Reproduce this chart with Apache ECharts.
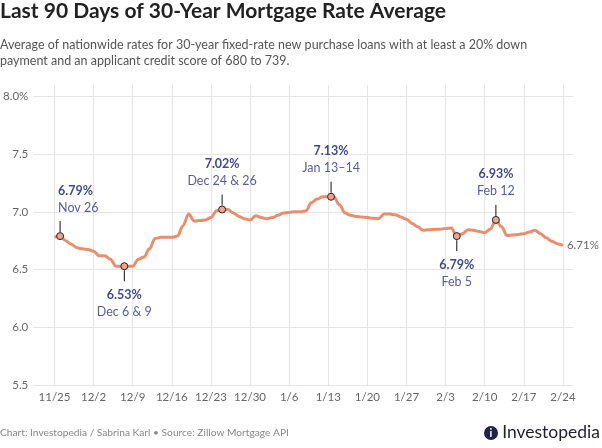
<!DOCTYPE html>
<html>
<head>
<meta charset="utf-8">
<script src="https://cdn.jsdelivr.net/npm/echarts@6/dist/echarts.min.js"></script>
<style>
  html, body { margin: 0; padding: 0; background: #fff; }
  #chart { width: 602px; height: 448px; }
</style>
</head>
<body>
<div id="chart"></div>
<script>
// day 0 = Nov 25, last day (91) = Feb 24
var rates = [
	6.78, 6.79, 6.75, 6.72, 6.69, 6.68, 6.675, 6.66, 6.62, 6.62,
	6.59, 6.53, 6.53, 6.53, 6.53, 6.59, 6.61, 6.68, 6.77, 6.78,
	6.78, 6.78, 6.79, 6.88, 6.98, 6.92, 6.925, 6.93, 6.95, 7.01,
	7.02, 7.02, 6.99, 6.96, 6.94, 6.93, 6.965, 6.95, 6.94, 6.95,
	6.97, 6.99, 6.995, 7.0, 7.0, 7.01, 7.08, 7.11, 7.13, 7.13,
	7.13, 7.06, 6.99, 6.97, 6.96, 6.955, 6.95, 6.945, 6.94, 6.98,
	6.98, 6.975, 6.955, 6.935, 6.9, 6.87, 6.84, 6.845, 6.85, 6.85,
	6.855, 6.86, 6.79, 6.81, 6.845, 6.84, 6.83, 6.82, 6.85, 6.93,
	6.87, 6.795, 6.8, 6.805, 6.81, 6.825, 6.84, 6.81, 6.775, 6.745,
	6.725, 6.71
];
var tickDays = [0, 7, 14, 21, 28, 35, 42, 49, 56, 63, 70, 77, 84, 91];
var tickLabels = ['11/25', '12/2', '12/9', '12/16', '12/23', '12/30', '1/6', '1/13', '1/20', '1/27', '2/3', '2/10', '2/17', '2/24'];
var yTicks = [5.5, 6.0, 6.5, 7.0, 7.5, 8.0];

var noteDays = [1, 12.5, 30, 49.5, 72, 79];
var noteRates = [6.79, 6.53, 7.02, 7.13, 6.79, 6.93];
var noteDates = ['Nov 26', 'Dec 6 & 9', 'Dec 24 & 26', 'Jan 13–14', 'Feb 5', 'Feb 12'];
var noteBelow = [false, true, false, false, true, false];

var lineData = rates.map(function (r, i) { return [i, r]; });
var noteData = noteDays.map(function (d, i) { return [d, noteRates[i]]; });

var FONT = 'Lato';
var chartDom = document.getElementById('chart');
var myChart = echarts.init(chartDom, null, { renderer: 'canvas' });
var option;

option = {
	animation: false,
	textStyle: { fontFamily: FONT },
	title: [
		{
			text: 'Last 90 Days of 30-Year Mortgage Rate Average',
			left: 0,
			top: 1,
			padding: 0,
			textStyle: { fontFamily: FONT, fontSize: 21, fontWeight: 'bold', color: '#222' }
		},
		{
			text: 'Average of nationwide rates for 30-year fixed-rate new purchase loans with at least a 20% down\npayment and an applicant credit score of 680 to 739.',
			left: 0,
			top: 37,
			padding: 0,
			textStyle: { fontFamily: FONT, fontSize: 12.5, fontWeight: 'normal', color: '#555', lineHeight: 16 }
		},
		{
			text: 'Chart: Investopedia / Sabrina Karl • Source: Zillow Mortgage API',
			left: 0,
			top: 428,
			padding: 0,
			textStyle: { fontFamily: FONT, fontSize: 10.2, fontWeight: 'normal', color: '#888' }
		},
		{
			text: 'Investopedia',
			right: 2,
			top: 423,
			padding: 0,
			textStyle: { fontFamily: FONT, fontSize: 17.5, fontWeight: 'normal', color: '#1f1f2e' }
		}
	],
	graphic: [
		{
			type: 'circle',
			shape: { cx: 491, cy: 433, r: 7 },
			style: { fill: '#23234a' }
		},
		{
			type: 'text',
			style: { text: 'i', x: 491, y: 433, align: 'center', verticalAlign: 'middle', fill: '#fff', font: 'bold 11px ' + FONT }
		}
	],
	grid: {
		left: 31,
		right: 29,
		top: 85,
		bottom: 62.5
	},
	xAxis: {
		type: 'value',
		min: -3.8,
		max: 92.8,
		axisLine: { show: false },
		axisTick: { show: false, customValues: tickDays },
		axisLabel: {
			customValues: tickDays,
			color: '#666',
			fontSize: 11.5,
			margin: 6,
			formatter: function (v) { return tickLabels[tickDays.indexOf(v)]; }
		},
		splitLine: { show: true, lineStyle: { color: '#e5e5e5', width: 1 } }
	},
	yAxis: {
		type: 'value',
		min: 5.5,
		max: 8.095,
		axisLine: { show: false },
		axisTick: { show: false, customValues: yTicks },
		axisLabel: {
			customValues: yTicks,
			color: '#666',
			fontSize: 11.5,
			margin: 5,
			formatter: function (v) { return v === 8 ? '8.0%' : v.toFixed(1); }
		},
		splitLine: { show: true, lineStyle: { color: '#e5e5e5', width: 1 } }
	},
	series: [
		{
			name: 'Rate',
			type: 'line',
			data: lineData,
			smooth: 0.35,
			smoothMonotone: 'x',
			showSymbol: false,
			lineStyle: { color: '#e98d6d', width: 3 },
			endLabel: {
				show: true,
				distance: 4,
				color: '#666',
				fontSize: 11.5,
				formatter: function (p) { return p.value[1].toFixed(2) + '%'; }
			},
			z: 2
		},
		{
			name: 'Notes',
			type: 'custom',
			data: noteData,
			z: 5,
			renderItem: function (params, api) {
				var i = params.dataIndex;
				var p = api.coord([api.value(0), api.value(1)]);
				var below = noteBelow[i];
				var dir = below ? 1 : -1;
				var y1 = p[1] + dir * 4;
				var y2 = p[1] + dir * 15;
				var first = i === 0;
				return {
					type: 'group',
					children: [
						{
							type: 'line',
							shape: { x1: p[0], y1: y1, x2: p[0], y2: y2 },
							style: { stroke: '#111', lineWidth: 1 }
						},
						{
							type: 'circle',
							shape: { cx: p[0], cy: p[1], r: 3.5 },
							style: { fill: '#eea58b', stroke: '#222', lineWidth: 1 }
						},
						{
							type: 'text',
							style: {
								x: first ? p[0] - 2 : p[0],
								y: below ? y2 + 5 : y2 - 5,
								align: first ? 'left' : 'center',
								verticalAlign: below ? 'top' : 'bottom',
								text: '{b|' + noteRates[i].toFixed(2) + '%}\n{d|' + noteDates[i] + '}',
								rich: {
									b: { fontFamily: FONT, fontSize: 12.5, fontWeight: 'bold', fill: '#45498c', lineHeight: 17, align: first ? 'left' : 'center' },
									d: { fontFamily: FONT, fontSize: 12.5, fontWeight: 'normal', fill: '#585c98', lineHeight: 17, align: first ? 'left' : 'center' }
								}
							}
						}
					]
				};
			}
		}
	]
};

option && myChart.setOption(option);
</script>
</body>
</html>
